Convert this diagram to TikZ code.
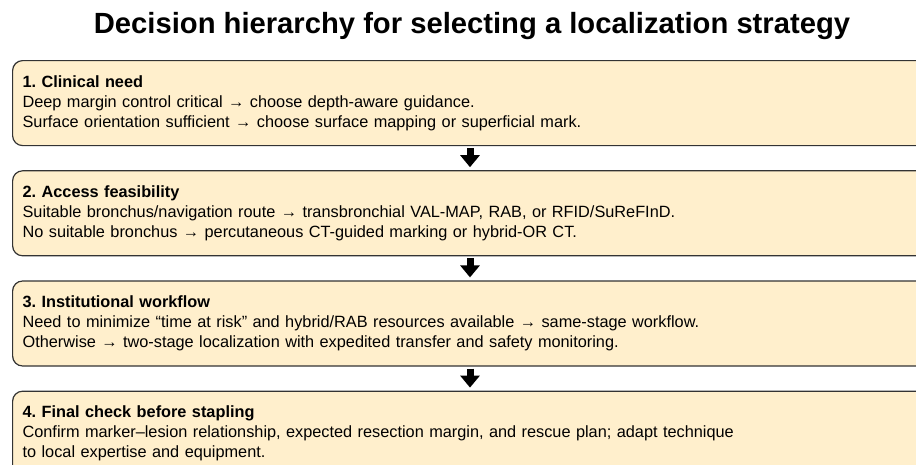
\documentclass[tikz,border=0pt]{standalone}
\usepackage{fontspec}
\setmainfont{Liberation Sans}
\usetikzlibrary{arrows.meta,positioning}
\definecolor{stagefill}{RGB}{255,239,204}
\definecolor{stageline}{RGB}{51,51,51}
\frenchspacing
\tikzset{
	stage/.style={
		rectangle,
		rounded corners=10pt,
		draw=stageline,
		line width=1.2pt,
		fill=stagefill,
		minimum width=960pt,
		minimum height=85pt,
		text width=940pt,
		inner xsep=10pt,
		align=left,
		font=\fontsize{16.3}{20}\selectfont
	},
	flow/.style={
		line width=7pt,
		-{Triangle[length=12pt,width=19pt]},
		shorten <=2pt,
		shorten >=3pt
	},
	heading/.style={
		font=\fontsize{29.2}{34}\selectfont\bfseries
	}
}

\begin{document}
\begin{tikzpicture}[node distance=24pt]
\clip (0,0) rectangle (916pt,-464pt);
\node [heading] (title) at (472pt,-26pt) {Decision hierarchy for selecting a localization strategy};

\node [stage,anchor=north west] (need) at (12pt,-60pt) {\textbf{1. Clinical need}\\
Deep margin control critical → choose depth-aware guidance.\\
Surface orientation sufficient → choose surface mapping or superficial mark.};
\node [stage,below=of need] (access) {\textbf{2. Access feasibility}\\
Suitable bronchus/navigation route → transbronchial VAL-MAP, RAB, or RFID/SuReFInD.\\
No suitable bronchus → percutaneous CT-guided marking or hybrid-OR CT.};
\node [stage,below=of access] (workflow) {\textbf{3. Institutional workflow}\\
Need to minimize “time at risk” and hybrid/RAB resources available → same-stage workflow.\\
Otherwise → two-stage localization with expedited transfer and safety monitoring.};
\node [stage,below=of workflow] (check) {\textbf{4. Final check before stapling}\\
Confirm marker–lesion relationship, expected resection margin, and rescue plan; adapt technique\\
to local expertise and equipment.};

\coordinate (axis) at (470pt,0);
\draw [flow] (need.south -| axis) -- (access.north -| axis);
\draw [flow] (access.south -| axis) -- (workflow.north -| axis);
\draw [flow] (workflow.south -| axis) -- (check.north -| axis);
\end{tikzpicture}
\end{document}
